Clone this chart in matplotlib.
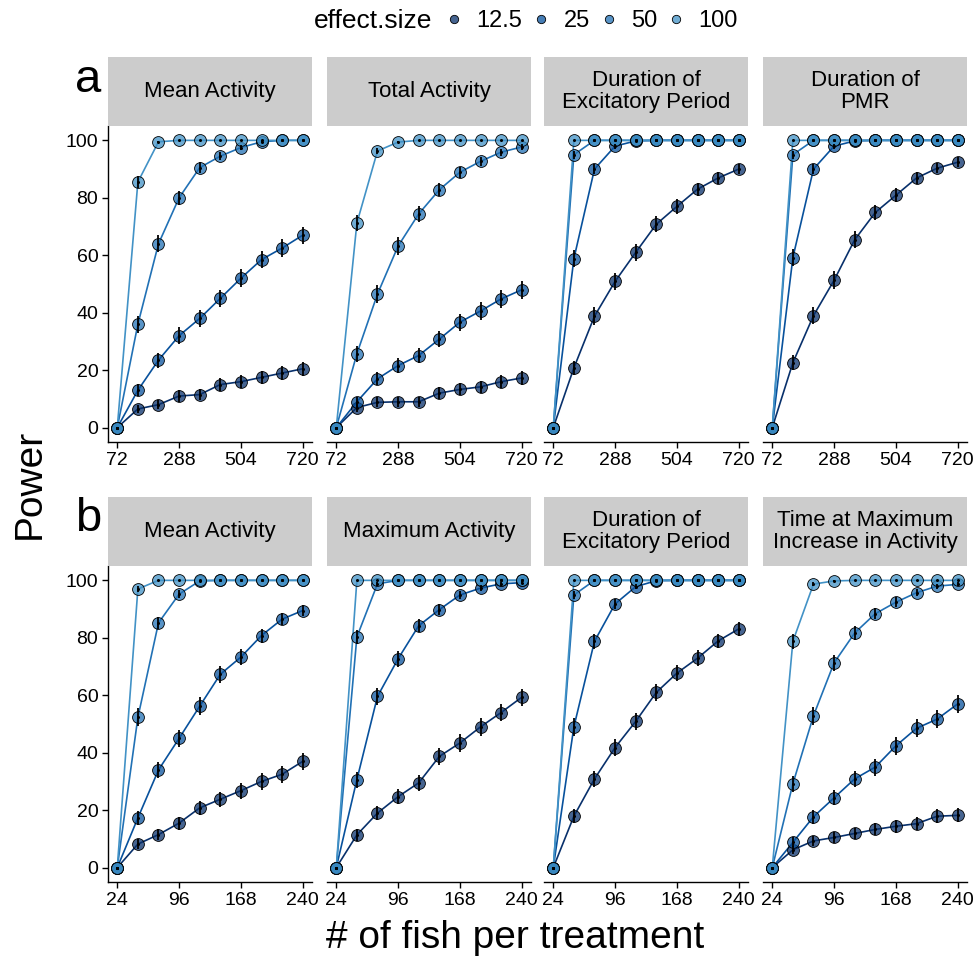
import numpy as np
import matplotlib
matplotlib.use("Agg")
import matplotlib.pyplot as plt
from matplotlib.lines import Line2D
from matplotlib.colors import to_rgba

plt.rcParams['font.family'] = ['Liberation Sans', 'DejaVu Sans']

# ---------------- data ----------------
effect_sizes = ["12.5", "25", "50", "100"]
x_a = [72, 144, 216, 288, 360, 432, 504, 576, 648, 720]
x_b = [24, 48, 72, 96, 120, 144, 168, 192, 216, 240]
ticks_a = [72, 288, 504, 720]
ticks_b = [24, 96, 168, 240]

titles_a = ["Mean Activity", "Total Activity", "Duration of\nExcitatory Period", "Duration of\nPMR"]
titles_b = ["Mean Activity", "Maximum Activity", "Duration of\nExcitatory Period", "Time at Maximum\nIncrease in Activity"]

# rows: effect size 12.5, 25, 50, 100
a_mean = [
    [0, 6.5, 8, 11, 11.5, 15, 16, 17.5, 19, 20.5],
    [0, 13, 23.5, 32, 38, 45, 52, 58.5, 62.5, 67],
    [0, 36, 64, 80, 90.5, 94.5, 97.5, 99.5, 100, 100],
    [0, 85.5, 99.5, 100, 100, 100, 100, 100, 100, 100],
]
a_total = [
    [0, 7, 8.8, 9, 9, 12, 13.3, 14.2, 16, 17.3],
    [0, 9, 17, 21.6, 25.1, 30.8, 36.7, 40.6, 44.8, 48],
    [0, 25.7, 46.5, 63.2, 74.4, 82.8, 88.9, 92.7, 95.9, 97.7],
    [0, 71.2, 96.3, 99.4, 100, 100, 100, 100, 100, 100],
]
a_dur_exc = [
    [0, 20.8, 38.8, 50.9, 61, 70.8, 77, 83, 86.9, 90],
    [0, 58.8, 90, 98, 99.8, 100, 100, 100, 100, 100],
    [0, 95, 100, 100, 100, 100, 100, 100, 100, 100],
    [0, 100, 100, 100, 100, 100, 100, 100, 100, 100],
]
a_dur_pmr = [
    [0, 22.6, 39, 51.3, 65.4, 74.9, 80.9, 86.9, 90.3, 92.4],
    [0, 59.2, 90, 98, 99.8, 100, 100, 100, 100, 100],
    [0, 95, 100, 100, 100, 100, 100, 100, 100, 100],
    [0, 100, 100, 100, 100, 100, 100, 100, 100, 100],
]
b_mean = [
    [0, 8.2, 11.5, 15.5, 20.8, 23.8, 26.8, 30, 32.5, 37],
    [0, 17.3, 34, 45, 56.2, 67.3, 73.3, 80.8, 86.5, 89.5],
    [0, 52.3, 85.2, 95.2, 99.8, 100, 100, 100, 100, 100],
    [0, 97, 100, 100, 100, 100, 100, 100, 100, 100],
]
b_max = [
    [0, 11.4, 19, 24.7, 29.5, 38.7, 43.4, 49, 54, 59.3],
    [0, 30.6, 59.6, 72.7, 84.2, 89.8, 94.9, 97.3, 98.8, 99.2],
    [0, 80.3, 98.8, 100, 100, 100, 100, 100, 100, 100],
    [0, 100, 100, 100, 100, 100, 100, 100, 100, 100],
]
b_dur_exc = [
    [0, 17.9, 30.9, 41.8, 50.9, 61, 67.7, 72.9, 78.9, 83.1],
    [0, 49, 78.8, 91.8, 97.8, 99.9, 100, 100, 100, 100],
    [0, 94.9, 100, 100, 100, 100, 100, 100, 100, 100],
    [0, 100, 100, 100, 100, 100, 100, 100, 100, 100],
]
b_time_max = [
    [0, 6.2, 9.3, 10.5, 11.9, 13.3, 14.4, 15.3, 17.9, 18.2],
    [0, 8.8, 17.7, 24.3, 30.9, 35, 42.4, 48.5, 51.7, 57],
    [0, 29.2, 52.9, 71.3, 81.7, 88.4, 92.4, 95.7, 98, 98.6],
    [0, 78.8, 98.7, 99.8, 100, 100, 100, 100, 100, 100],
]
n_sims = 1000  # simulations per point -> binomial 95% CI

colors = ["#08306b", "#08519c", "#2171b5", "#4292c6"]

# ---------------- layout ----------------
W, H = 974, 963
fig = plt.figure(figsize=(W / 100, H / 100), dpi=100)

lefts = [108, 327, 544, 763]
pw = 204
ph = 316
row_tops = [126, 566]
strip_h = 69


def fx(px):
    return px / W


def fy(py):
    return 1 - py / H


def draw_panel(ax, x, data, ticks, first):
    x = np.asarray(x, float)
    for i, ys in enumerate(data):
        ax.plot(x, ys, color=colors[i], lw=1.2, zorder=2, solid_joinstyle='round')
    for i, ys in enumerate(data):
        ax.plot(x, ys, 'o', ms=8.5, mfc=to_rgba(colors[i], 0.75), mec='black', mew=0.6, zorder=3)
    for i, ys in enumerate(data):
        p = np.asarray(ys) / 100.0
        ci = 196 * np.sqrt(p * (1 - p) / n_sims)
        ax.errorbar(x, ys, yerr=ci, fmt='none', ecolor='black', elinewidth=1.3, capsize=0, zorder=4)
        ax.plot(x, ys, 'o', ms=2.2, mfc='black', mec='none', zorder=5)
    span = x[-1] - x[0]
    ax.set_xlim(x[0] - 0.05 * span, x[-1] + 0.05 * span)
    ax.set_ylim(-5, 105)
    ax.set_xticks(ticks)
    ax.set_yticks([0, 20, 40, 60, 80, 100])
    for s in ['top', 'right']:
        ax.spines[s].set_visible(False)
    ax.spines['bottom'].set_linewidth(1.0)
    ax.spines['left'].set_linewidth(1.0)
    ax.tick_params(axis='x', length=4, width=1.0, labelsize=14, pad=3, colors='black')
    if first:
        ax.tick_params(axis='y', length=4, width=1.0, labelsize=14, pad=3, colors='black')
    else:
        ax.spines['left'].set_visible(False)
        ax.tick_params(axis='y', left=False, labelleft=False)


rows = [
    (x_a, ticks_a, titles_a, [a_mean, a_total, a_dur_exc, a_dur_pmr]),
    (x_b, ticks_b, titles_b, [b_mean, b_max, b_dur_exc, b_time_max]),
]

for r, (xv, tk, tt, datas) in enumerate(rows):
    top = row_tops[r]
    for c in range(4):
        ax = fig.add_axes([fx(lefts[c]), fy(top + ph), fx(pw), ph / H])
        draw_panel(ax, xv, datas[c], tk, c == 0)
        sax = fig.add_axes([fx(lefts[c]), fy(top), fx(pw), strip_h / H])
        sax.set_facecolor('#cccccc')
        sax.set_xticks([]); sax.set_yticks([])
        for s in sax.spines.values():
            s.set_visible(False)
        sax.text(0.5, 0.5, tt[c], ha='center', va='center', fontsize=16,
                 linespacing=1.05, transform=sax.transAxes)

# panel letters
fig.text(fx(88), fy(92), "a", fontsize=34, ha='center', va='baseline')
fig.text(fx(88), fy(531), "b", fontsize=34, ha='center', va='baseline')

# axis titles
fig.text(fx(30), fy(484), "Power", fontsize=28, rotation=90, ha='center', va='center')
fig.text(fx(515), fy(938), "# of fish per treatment", fontsize=28, ha='center', va='center')

# legend
fig.text(fx(432), fy(21), "effect.size", fontsize=19, ha='right', va='center')
handles = [Line2D([], [], ls='none', marker='o', ms=6, mfc=to_rgba(col, 0.75), mec='black', mew=0.6)
           for col in colors]
fig.legend(handles, effect_sizes, loc='center left', bbox_to_anchor=(fx(442), fy(21)),
           ncol=4, frameon=False, fontsize=17, handletextpad=0.45, columnspacing=0.3,
           handlelength=1.0, borderpad=0, borderaxespad=0)

fig.savefig("out.png", dpi=100)
